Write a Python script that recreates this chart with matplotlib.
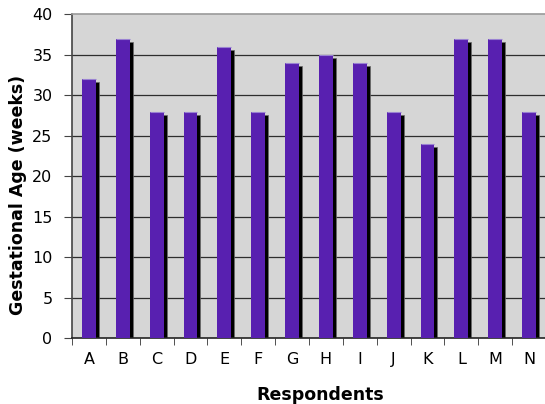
import matplotlib
matplotlib.use("Agg")
import matplotlib.pyplot as plt
import numpy as np

respondents = ["A", "B", "C", "D", "E", "F", "G", "H", "I", "J", "K", "L", "M", "N"]
gestational_weeks = [32, 37, 28, 28, 36, 28, 34, 35, 34, 28, 24, 37, 37, 28]
y_ticks = [0, 5, 10, 15, 20, 25, 30, 35, 40]

plt.rcParams["font.family"] = ["DejaVu Sans"]

W, H = 545, 404
fig = plt.figure(figsize=(W / 100, H / 100), dpi=100)
ax_left, ax_right, ax_top, ax_bottom = 72, 546, 14.5, 338
ax = fig.add_axes([ax_left / W, (H - ax_bottom) / H,
                   (ax_right - ax_left) / W, (ax_bottom - ax_top) / H])

ax.set_facecolor("#d6d6d6")
n = len(respondents)
x = np.arange(n)
bar_w = 0.41

# horizontal gridlines between the floor and the top border
for v in y_ticks[1:-1]:
    ax.axhline(v, color="#2e2e2e", linewidth=0.9, zorder=1)

# drop shadow: 3 px to the right and 3 px lower than each bar
px_per_cat = (ax_right - ax_left) / n
px_per_week = (ax_bottom - ax_top) / 40
dx = 3 / px_per_cat
dy = 3 / px_per_week
ax.bar(x + dx, np.array(gestational_weeks) - dy, width=bar_w, color="black",
       edgecolor="#6a6a6a", linewidth=0.5, zorder=2)
ax.bar(x, gestational_weeks, width=bar_w, color="#5820b0", linewidth=0, zorder=3)
# lighter rim along the top of each bar
rim = ax.hlines(gestational_weeks, x - bar_w / 2, x + bar_w / 2, color="#9a82d2",
                linewidth=0.8, zorder=4)
rim.set_capstyle("butt")

ax.set_xlim(-0.5, n - 0.5)
ax.set_ylim(0, 40)
ax.set_yticks(y_ticks)
ax.set_yticklabels([str(v) for v in y_ticks], fontsize=11.5)

ax.set_xticks(x)
ax.set_xticklabels(respondents, fontsize=11.5)
ax.tick_params(axis="x", length=0, pad=10)
ax.set_xticks(np.arange(-0.5, n, 1), minor=True)
ax.tick_params(axis="x", which="minor", length=5, color="#333333", direction="out")
ax.tick_params(axis="y", length=6, color="#444444", direction="out", pad=8)

ax.spines["right"].set_visible(False)
ax.spines["top"].set_color("#9a9a9a")
ax.spines["top"].set_linewidth(1.2)
ax.spines["left"].set_color("#444444")
ax.spines["left"].set_linewidth(1.2)
ax.spines["bottom"].set_color("#222222")
ax.spines["bottom"].set_linewidth(1.2)

ax.set_xlabel("Respondents", fontsize=12.5, fontweight="bold")
ax.set_ylabel("Gestational Age (weeks)", fontsize=12.5, fontweight="bold")
ax.xaxis.set_label_coords((320.5 - ax_left) / (ax_right - ax_left),
                          (ax_bottom - 395) / (ax_bottom - ax_top),
                          transform=ax.transAxes)
ax.yaxis.set_label_coords((18 - ax_left) / (ax_right - ax_left),
                          (ax_bottom - 195) / (ax_bottom - ax_top),
                          transform=ax.transAxes)
ax.xaxis.label.set_va("center")
ax.yaxis.label.set_va("center")

fig.savefig("out.png", dpi=100, facecolor="white")
